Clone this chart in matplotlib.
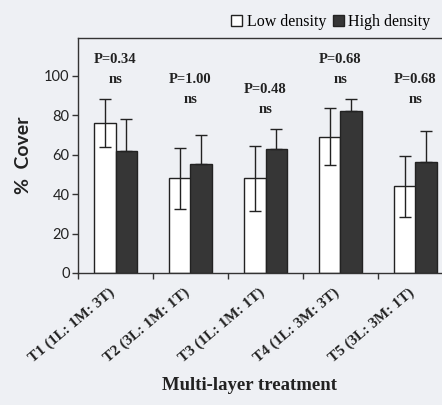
import numpy as np
import matplotlib.pyplot as plt
import matplotlib.transforms as mtransforms
from matplotlib.patches import Patch

# datos
treatments = ['T1 (1L: 1M: 3T)', 'T2 (3L: 1M: 1T)', 'T3 (1L: 1M: 1T)',
              'T4 (1L: 3M: 3T)', 'T5 (3L: 3M: 1T)']
low_density = [76, 48, 48, 69, 44]
low_err = [12, 15.5, 16.5, 14.5, 15.5]
high_density = [62, 55, 63, 82, 56]
high_err = [16, 15, 10, 6, 16]
p_values = ['P=0.34', 'P=1.00', 'P=0.48', 'P=0.68', 'P=0.68']
sig = ['ns', 'ns', 'ns', 'ns', 'ns']
label_y = [108, 98, 93, 108, 98]

bg = '#eef0f4'
serif = ['Liberation Serif', 'DejaVu Serif']
sans = ['Lato', 'DejaVu Sans']

fig = plt.figure(figsize=(4.42, 4.05), dpi=100, facecolor=bg)
ax = fig.add_axes([78 / 442, 132 / 405, 375 / 442, 235 / 405])
ax.set_facecolor(bg)

x = np.arange(len(treatments)) + 0.5
w = 0.29
ax.bar(x - w / 2, low_density, w, color='white', edgecolor='#222222', linewidth=1.0,
       yerr=low_err, error_kw=dict(ecolor='#222222', elinewidth=1.0, capsize=4, capthick=1.0))
ax.bar(x + w / 2, high_density, w, color='#363636', edgecolor='#222222', linewidth=1.0,
       yerr=[np.zeros(len(high_err)), high_err],
       error_kw=dict(ecolor='#222222', elinewidth=1.0, capsize=4, capthick=1.0))

for xi, p, s, y in zip(x, p_values, sig, label_y):
    ax.text(xi, y, p, ha='center', va='center', fontsize=10.5, family=serif, fontweight='bold', color='#222222')
    ax.text(xi, y - 10, s, ha='center', va='center', fontsize=10.5, family=serif, fontweight='bold', color='#222222')

ax.set_xlim(0, len(treatments))
ax.set_ylim(0, 119)
ax.set_yticks([0, 20, 40, 60, 80, 100])
ax.set_yticklabels(['0', '20', '40', '60', '80', '100'], family=sans, fontsize=10.5, color='#222222')
ax.tick_params(axis='y', direction='out', length=4, width=1.0, color='#333333', pad=2)

# marcas en los limites de grupo, etiquetas en el centro
ax.set_xticks(np.arange(len(treatments) + 1))
ax.set_xticklabels([])
ax.tick_params(axis='x', which='major', direction='out', length=4, width=1.0, color='#333333')
ax.set_xticks(x, minor=True)
ax.set_xticklabels(treatments, minor=True, rotation=40, ha='right', rotation_mode='anchor',
                   family=serif, fontsize=11, fontweight='bold', color='#222222')
ax.tick_params(axis='x', which='minor', length=0, pad=9)
shift = mtransforms.ScaledTranslation(-7 / 100, 0, fig.dpi_scale_trans)
for lbl in ax.get_xticklabels(minor=True):
    lbl.set_transform(lbl.get_transform() + shift)

for sp in ax.spines.values():
    sp.set_color('#333333')
    sp.set_linewidth(1.0)

ax.set_ylabel('%  Cover', family=sans, fontsize=14, fontweight='bold', labelpad=9, color='#222222')
fig.text(250 / 442, 20 / 405, 'Multi-layer treatment', ha='center', va='center',
         family=serif, fontsize=13.5, fontweight='bold', color='#222222')

handles = [Patch(facecolor='white', edgecolor='#222222', label='Low density'),
           Patch(facecolor='#363636', edgecolor='#222222', label='High density')]
fig.legend(handles=handles, loc='upper right', bbox_to_anchor=(437 / 442, 1 - 8 / 405), ncol=2,
           frameon=False, prop={'family': serif, 'size': 11.5}, handlelength=0.7, handleheight=0.7,
           handletextpad=0.3, columnspacing=0.4, borderaxespad=0)

fig.savefig('out.png', dpi=100, facecolor=bg)
